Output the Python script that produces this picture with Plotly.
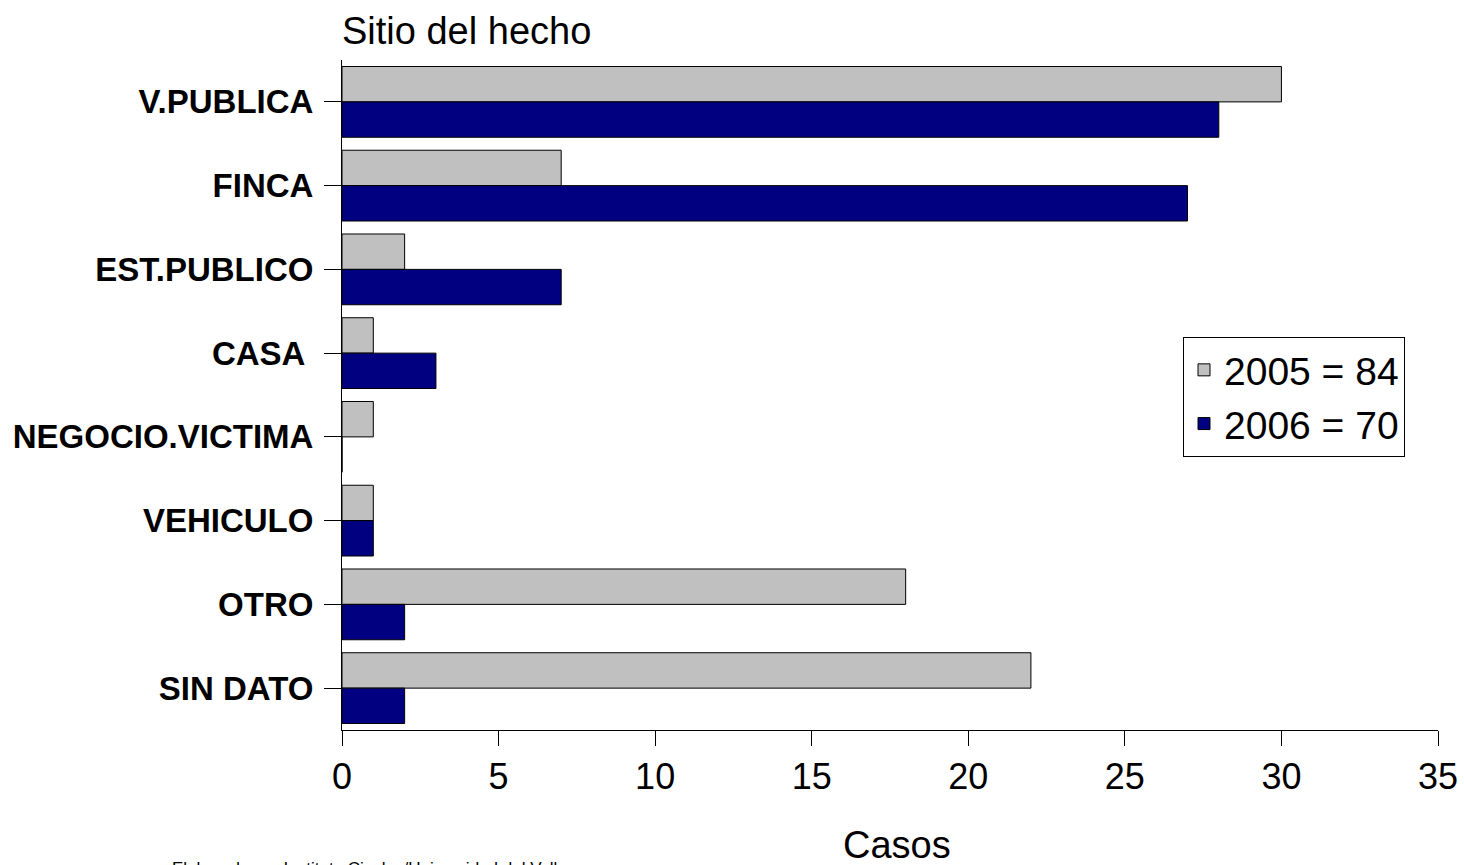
import plotly.graph_objects as go

categories = ["V.PUBLICA", "FINCA", "EST.PUBLICO", "CASA ", "NEGOCIO.VICTIMA", "VEHICULO", "OTRO", "SIN DATO"]
values_2005 = [30, 7, 2, 1, 1, 1, 18, 22]
values_2006 = [28, 27, 7, 3, 0, 1, 2, 2]
series_names = ["2005 = 84", "2006 = 70"]
x_ticks = [0, 5, 10, 15, 20, 25, 30, 35]

W, H = 1464, 865
L, R, T, B = 342, 26, 60, 135
pw, ph = W - L - R, H - T - B

def px_x(x):
    return (x - L) / pw

def px_y(y):
    return (H - B - y) / ph

fig = go.Figure()
fig.add_trace(go.Bar(y=categories, x=values_2005, name=series_names[0], orientation="h",
                     marker=dict(color="#C0C0C0", line=dict(color="#000000", width=1))))
fig.add_trace(go.Bar(y=categories, x=values_2006, name=series_names[1], orientation="h",
                     marker=dict(color="#000080", line=dict(color="#000000", width=1))))

font_family = "Liberation Sans, Arial, sans-serif"

fig.update_layout(
    width=W, height=H,
    margin=dict(l=L, r=R, t=T, b=B, autoexpand=False),
    paper_bgcolor="white", plot_bgcolor="white",
    barmode="group", bargap=0.155, bargroupgap=0,
    font=dict(family=font_family, color="black"),
    showlegend=True,
    legend=dict(x=px_x(1183), y=px_y(337), xanchor="left", yanchor="top",
                bgcolor="white", bordercolor="#000000", borderwidth=1,
                font=dict(size=39, family=font_family), tracegroupgap=0,
                traceorder="normal"),
    xaxis=dict(range=[0, 35], tickvals=x_ticks, showgrid=False, zeroline=False,
               showline=True, linecolor="#000000", linewidth=1,
               ticks="outside", ticklen=15, tickcolor="#000000",
               tickfont=dict(size=36, family=font_family)),
    yaxis=dict(type="category", categoryorder="array", categoryarray=categories,
               autorange="reversed", showgrid=False, zeroline=False,
               showline=True, linecolor="#000000", linewidth=1,
               ticks="outside", ticklen=17, tickcolor="#000000",
               ticklabelstandoff=4,
               tickfont=dict(size=33, family=font_family, weight="bold")),
    annotations=[
        dict(text="Sitio del hecho", xref="paper", yref="paper", x=px_x(340), y=px_y(31),
             xanchor="left", yanchor="middle", showarrow=False, font=dict(size=38)),
        dict(text="Casos", xref="paper", yref="paper", x=px_x(897), y=px_y(845),
             xanchor="center", yanchor="middle", showarrow=False, font=dict(size=38)),
        dict(text="Elaborado por Instituto Cisalva/Universidad del Valle", xref="paper", yref="paper",
             x=px_x(170), y=px_y(857), xanchor="left", yanchor="top", showarrow=False,
             font=dict(size=17)),
    ],
)

fig.write_html("out.html", config={"displayModeBar": False},
               post_script="document.body.style.margin='0';document.body.style.padding='0';")
